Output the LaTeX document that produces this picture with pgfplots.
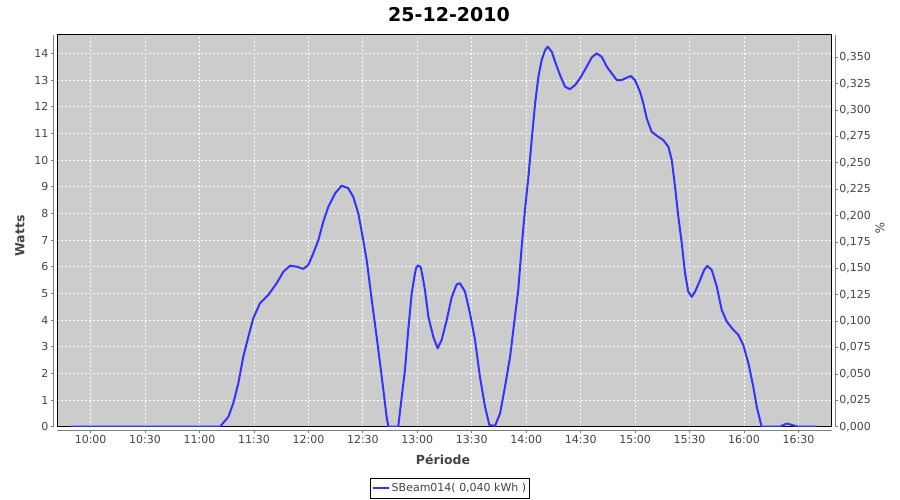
\documentclass[border=0pt]{standalone}
\usepackage{fontspec}
\setmainfont{DejaVu Sans}
\usepackage{pgfplots}
\pgfplotsset{compat=1.18}

\definecolor{plotbg}{RGB}{204,204,204}
\definecolor{serie}{RGB}{51,51,255}
\definecolor{axgray}{RGB}{128,128,128}
\definecolor{ticktext}{RGB}{68,68,68}

\pgfplotsset{
  jfree/.style={
    scale only axis, width=774.4bp, height=391.7bp,
    xmin=581.65, xmax=1008.3, ymin=0, ymax=14.69,
    /pgf/number format/assume math mode=true,
    tick label style={font=\fontsize{11bp}{13bp}\selectfont, text=ticktext},
    tick style={axgray, line width=0.8bp},
    major tick length=2.7bp, tick align=outside,
  }
}

\begin{document}
\begin{tikzpicture}
\path[use as bounding box] (0,0) rectangle (900bp,500bp);

% plot area: background, grid, series, legend
\begin{axis}[jfree, at={(57.3bp,73.3bp)}, anchor=south west,
  axis background/.style={fill=plotbg},
  axis line style={black, line width=1bp},
  xtick={600,630,...,990}, ytick={0,1,...,14},
  xticklabels={}, yticklabels={},
  major tick length=0pt,
  grid=major,
  major grid style={white, line width=0.8bp, dash pattern=on 2bp off 2bp},
  legend style={at={(0.5071,-0.157)}, anchor=center, draw=black,
    line width=0.8bp, fill=white, text=ticktext,
    font=\fontsize{11bp}{13bp}\selectfont, inner xsep=1.5bp, inner ysep=3bp},
  legend cell align=left,
  legend image code/.code={\draw[#1] (0bp,0bp) -- (16bp,0bp);},
]
\addplot[serie, line width=2bp, line join=round] coordinates {
(589,0) (671.3,0) (675.9,0.37) (678.6,0.88) (681.4,1.63) (684.1,2.62)
(686.9,3.37) (689.6,4.06) (693.3,4.63) (697.9,4.94) (702.5,5.38)
(706.2,5.81) (709.9,6.04) (713.6,6.00) (717.2,5.92) (719.9,6.06)
(722.7,6.50) (725.5,7.00) (728.2,7.69) (731.0,8.25) (734.7,8.75)
(738.3,9.04) (742.0,8.94) (744.7,8.62) (747.5,8.00) (750.2,7.00)
(752.1,6.25) (754.9,4.75) (757.6,3.37) (760.4,1.87) (763.1,0.37)
(764.0,0) (769.5,0) (771.4,1.12) (773.2,2.13) (775.0,3.63) (776.9,5.00)
(778.7,5.75) (779.5,5.98) (780.5,6.05) (781.9,5.98) (783.0,5.6) (784.2,5.13) (786.1,4.12)
(788.8,3.37) (791.2,2.94) (793.4,3.25) (796.2,4.00) (799.0,4.87)
(801.7,5.34) (803.5,5.38) (806.3,5.06) (809.0,4.25) (811.8,3.25)
(814.5,1.87) (817.3,0.75) (819.7,0.06) (822.8,0.03) (825.6,0.5)
(828.3,1.5) (831.1,2.62) (832.9,3.63) (835.6,5.13) (837.5,6.75)
(839.3,8.13) (841.2,9.37) (843.0,10.75) (844.9,12.13) (846.7,13.12)
(848.5,13.75) (850.4,14.12) (851.8,14.25) (854.1,14.06) (855.9,13.69)
(858.6,13.19) (861.4,12.75) (864.1,12.66) (866.9,12.81) (869.6,13.06)
(873.3,13.50) (876.1,13.85) (878.8,14.00) (881.6,13.87) (884.4,13.50)
(887.1,13.25) (889.9,13.00) (892.6,13.00) (895.4,13.09) (897.7,13.15)
(899.9,13.00) (902.7,12.56) (904.5,12.13) (906.4,11.56) (909.1,11.06)
(912.8,10.87) (915.5,10.75) (918.3,10.50) (920.2,10.00) (922.0,9.00)
(923.8,7.87) (925.7,6.88) (927.5,5.75) (929.3,5.06) (931.2,4.87)
(933.0,5.06) (935.8,5.50) (938.0,5.88) (939.8,6.03) (942.2,5.88)
(945.0,5.25) (947.7,4.38) (950.5,3.94) (954.1,3.63) (956.9,3.44)
(959.6,3.06) (962.4,2.38) (965.1,1.50) (967.0,0.75) (969.7,0)
(979.8,0) (983.5,0.12) (987.2,0.05) (989.9,0) (1000,0)
};
\addlegendentry{SBeam014( 0,040 kWh )}
\end{axis}

% left axis, offset 4px
\begin{axis}[jfree, at={(53.3bp,73.3bp)}, anchor=south west,
  hide x axis, axis y line*=left,
  y axis line style={axgray, line width=0.8bp},
  ytick={0,1,...,14},
  yticklabel style={inner sep=2bp},
]
\end{axis}

% bottom axis, offset 4px
\begin{axis}[jfree, at={(57.3bp,69.3bp)}, anchor=south west,
  hide y axis, axis x line*=bottom,
  x axis line style={axgray, line width=0.8bp},
  xtick={600,630,...,990},
  xticklabels={10:00,10:30,11:00,11:30,12:00,12:30,13:00,13:30,14:00,14:30,15:00,15:30,16:00,16:30},
  xticklabel style={inner sep=2bp},
]
\end{axis}

% right axis (%), offset 4px
\begin{axis}[jfree, at={(61.3bp,73.3bp)}, anchor=south west,
  hide x axis, axis y line*=right,
  ymin=0, ymax=0.3711, scaled y ticks=false,
  y axis line style={axgray, line width=0.8bp},
  ytick={0,0.025,0.05,0.075,0.1,0.125,0.15,0.175,0.2,0.225,0.25,0.275,0.3,0.325,0.35},
  yticklabel style={inner sep=0.8bp, /pgf/number format/.cd, fixed, fixed zerofill, precision=3, use comma},
]
\end{axis}

\node[font=\bfseries\fontsize{19bp}{22bp}\selectfont] at (449bp,485.5bp) {25-12-2010};
\node[font=\bfseries\fontsize{12.5bp}{15bp}\selectfont, text=ticktext] at (443bp,40bp) {Période};
\node[rotate=90, font=\bfseries\fontsize{12.5bp}{15bp}\selectfont, text=ticktext] at (20bp,264bp) {Watts};
\node[rotate=-90, font=\fontsize{12bp}{14bp}\selectfont, text=ticktext] at (880bp,272bp) {\%};
\end{tikzpicture}
\end{document}
